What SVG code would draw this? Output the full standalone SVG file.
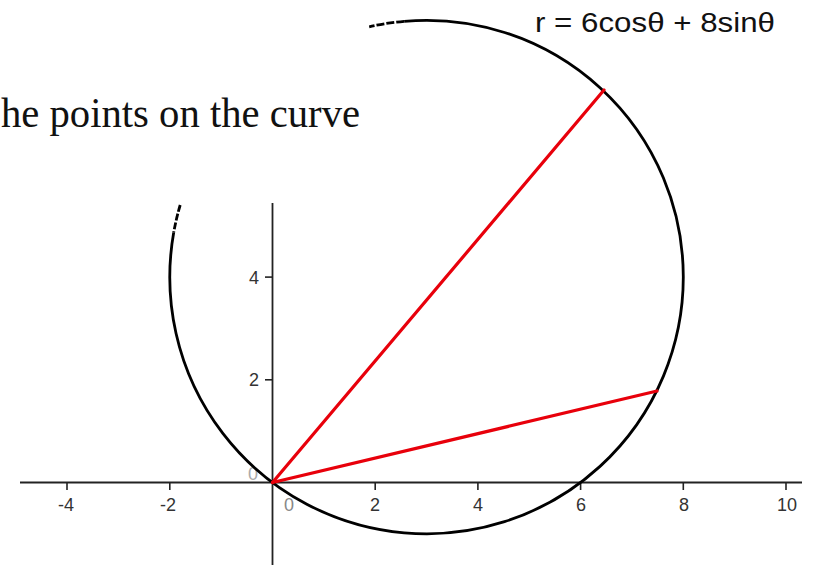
<svg xmlns="http://www.w3.org/2000/svg" width="813" height="565" viewBox="0 0 813 565">
<style>
.axis{stroke:#222;stroke-width:1.8;fill:none}
.tick{stroke:#222;stroke-width:1.6}
.lbl{font-family:"Liberation Sans",Arial,sans-serif;font-size:18px;fill:#333;text-anchor:middle}
.curve{stroke:#000;stroke-width:2.8;fill:none}
.ray{stroke:#e8000b;stroke-width:3.2;stroke-linecap:round}
</style>
<rect width="813" height="565" fill="#fff"/>
<text id="caption" x="1" y="127" font-family="'Liberation Serif','Times New Roman',serif" font-size="42" fill="#111" textLength="359" lengthAdjust="spacingAndGlyphs">he points on the curve</text>
<text id="equation" x="535" y="32" font-family="'Liberation Sans',Arial,sans-serif" font-size="27" fill="#111" textLength="240" lengthAdjust="spacingAndGlyphs">r = 6cosθ + 8sinθ</text>
<g id="axes">
<line class="axis" x1="20" y1="482.5" x2="802" y2="482.5"/>
<line class="axis" x1="272.5" y1="203" x2="272.5" y2="565"/>
<g class="tick">
<line x1="67" y1="482.5" x2="67" y2="490"/>
<line x1="169.8" y1="482.5" x2="169.8" y2="490"/>
<line x1="375.2" y1="482.5" x2="375.2" y2="490"/>
<line x1="477.9" y1="482.5" x2="477.9" y2="490"/>
<line x1="580.6" y1="482.5" x2="580.6" y2="490"/>
<line x1="683.3" y1="482.5" x2="683.3" y2="490"/>
<line x1="786" y1="482.5" x2="786" y2="490"/>
<line x1="265" y1="379.8" x2="272.5" y2="379.8"/>
<line x1="265" y1="277.1" x2="272.5" y2="277.1"/>
</g>
<text class="lbl" x="66" y="511">-4</text>
<text class="lbl" x="168" y="511">-2</text>
<text class="lbl" x="289" y="511" style="fill:#888">0</text>
<text class="lbl" x="375" y="511">2</text>
<text class="lbl" x="478" y="511">4</text>
<text class="lbl" x="581" y="511">6</text>
<text class="lbl" x="684" y="511">8</text>
<text class="lbl" x="787" y="511">10</text>
<text class="lbl" x="254" y="386">2</text>
<text class="lbl" x="254" y="284">4</text>
<text class="lbl" x="253" y="480" style="fill:#aaa">0</text>
</g>
<g id="curve">
<path class="curve" d="M173.7,232.5 A256.75,256.75 0 1 0 404.2,21.3"/>
<path class="curve" stroke-dasharray="7 2" d="M180.2,205 A256.75,256.75 0 0 0 173.7,232.5"/>
<path class="curve" stroke-dasharray="8 2" d="M404.2,21.3 A256.75,256.75 0 0 0 369.2,26.8"/>
</g>
<g id="connectors">
<line class="ray" x1="272.5" y1="482.5" x2="604" y2="90"/>
<line class="ray" x1="272.5" y1="482.5" x2="657" y2="391"/>
</g>
</svg>
